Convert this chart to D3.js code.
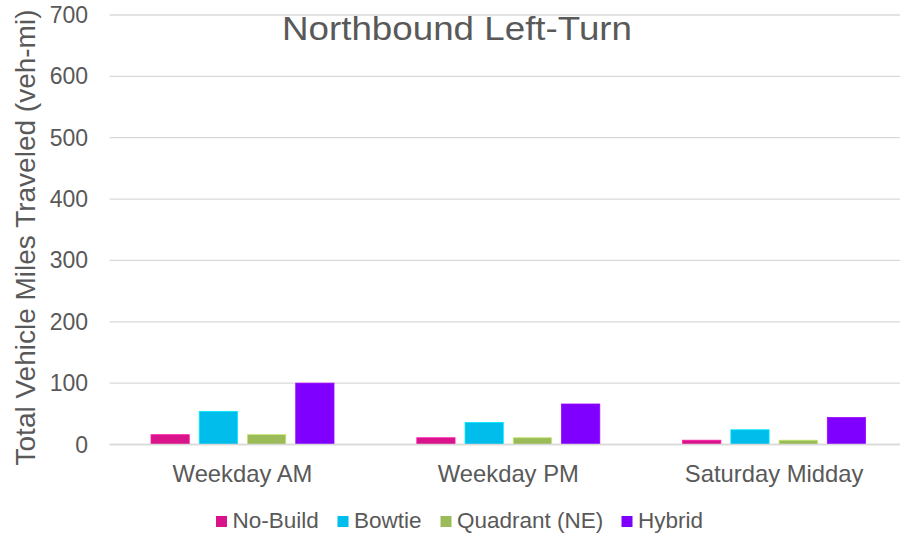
<!DOCTYPE html>
<html><head><meta charset="utf-8">
<script src="https://cdn.jsdelivr.net/npm/d3@7"></script>
<style>body{margin:0;background:#fff}svg{display:block}text{font-family:"Liberation Sans",Arial,sans-serif;fill:#595959}</style>
</head><body><svg id="c" width="900" height="536"></svg>
<script>
const categories = ["Weekday AM", "Weekday PM", "Saturday Midday"];
const seriesNames = ["No-Build", "Bowtie", "Quadrant (NE)", "Hybrid"];
const noBuild = [16, 11, 7];
const bowtie = [54, 36, 24];
const quadrant = [16, 11, 7];
const hybrid = [100, 66, 44];
const yTicks = [0, 100, 200, 300, 400, 500, 600, 700];
const colors = ["#D9138A", "#00BDEB", "#9BBB59", "#8000FF"];
const seriesValues = [noBuild, bowtie, quadrant, hybrid];

const svg = d3.select("#c");
const plotLeft = 109.6, plotRight = 907, gridRight = 900, plotTop = 15, plotBottom = 444.5;
const x = d3.scaleBand().domain(categories).range([plotLeft, plotRight]).paddingInner(0).paddingOuter(0);
const y = d3.scaleLinear().domain([0, 700]).range([plotBottom, plotTop]);
const groupW = 183;
const xs = d3.scaleBand().domain(seriesNames).range([0, groupW]).paddingInner(10/48.3).paddingOuter(0);

// gridlines
svg.append("g").selectAll("line").data(yTicks).join("line")
  .attr("x1", plotLeft).attr("x2", gridRight)
  .attr("y1", d => y(d)).attr("y2", d => y(d))
  .attr("stroke", "#d9d9d9").attr("stroke-width", 1.3);

// y tick labels
svg.append("g").selectAll("text").data(yTicks).join("text")
  .attr("x", 88).attr("y", d => y(d)).attr("dy", "0.35em")
  .attr("text-anchor", "end").attr("font-size", 23).text(d => d);

// bars
seriesNames.forEach((s, i) => {
  svg.append("g").selectAll("rect").data(categories).join("rect")
    .attr("x", c => x(c) + x.bandwidth()/2 - groupW/2 + xs(s))
    .attr("width", xs.bandwidth())
    .attr("y", (c, j) => y(seriesValues[i][j]))
    .attr("height", (c, j) => y(0) - y(seriesValues[i][j]))
    .attr("fill", colors[i])
    .attr("stroke", d3.color(colors[i]).brighter(0.6)).attr("stroke-width", 0.8);
});

// x axis baseline
svg.append("line").attr("x1", plotLeft).attr("x2", gridRight).attr("y1", y(0)).attr("y2", y(0))
  .attr("stroke", "#d9d9d9").attr("stroke-width", 1.5);

// category labels
svg.append("g").selectAll("text").data(categories).join("text")
  .attr("x", c => x(c) + x.bandwidth()/2).attr("y", 481.5)
  .attr("text-anchor", "middle").attr("font-size", 23.8).text(c => c);

// title
svg.append("text").attr("x", 457).attr("y", 40).attr("text-anchor", "middle")
  .attr("font-size", 33).attr("textLength", 350).attr("lengthAdjust", "spacingAndGlyphs")
  .text("Northbound Left-Turn");

// y axis title
svg.append("text").attr("transform", "translate(35,237.5) rotate(-90)")
  .attr("text-anchor", "middle").attr("font-size", 28).text("Total Vehicle Miles Traveled (veh-mi)");

// legend
const legendItems = [
  {name: seriesNames[0], x: 216},
  {name: seriesNames[1], x: 337.5},
  {name: seriesNames[2], x: 440.5},
  {name: seriesNames[3], x: 621.5}
];
const lg = svg.append("g");
legendItems.forEach((d, i) => {
  lg.append("rect").attr("x", d.x).attr("y", 516).attr("width", 11).attr("height", 11).attr("fill", colors[i]);
  lg.append("text").attr("x", d.x + 16.5).attr("y", 528).attr("font-size", 22.5).text(d.name);
});
</script></body></html>
